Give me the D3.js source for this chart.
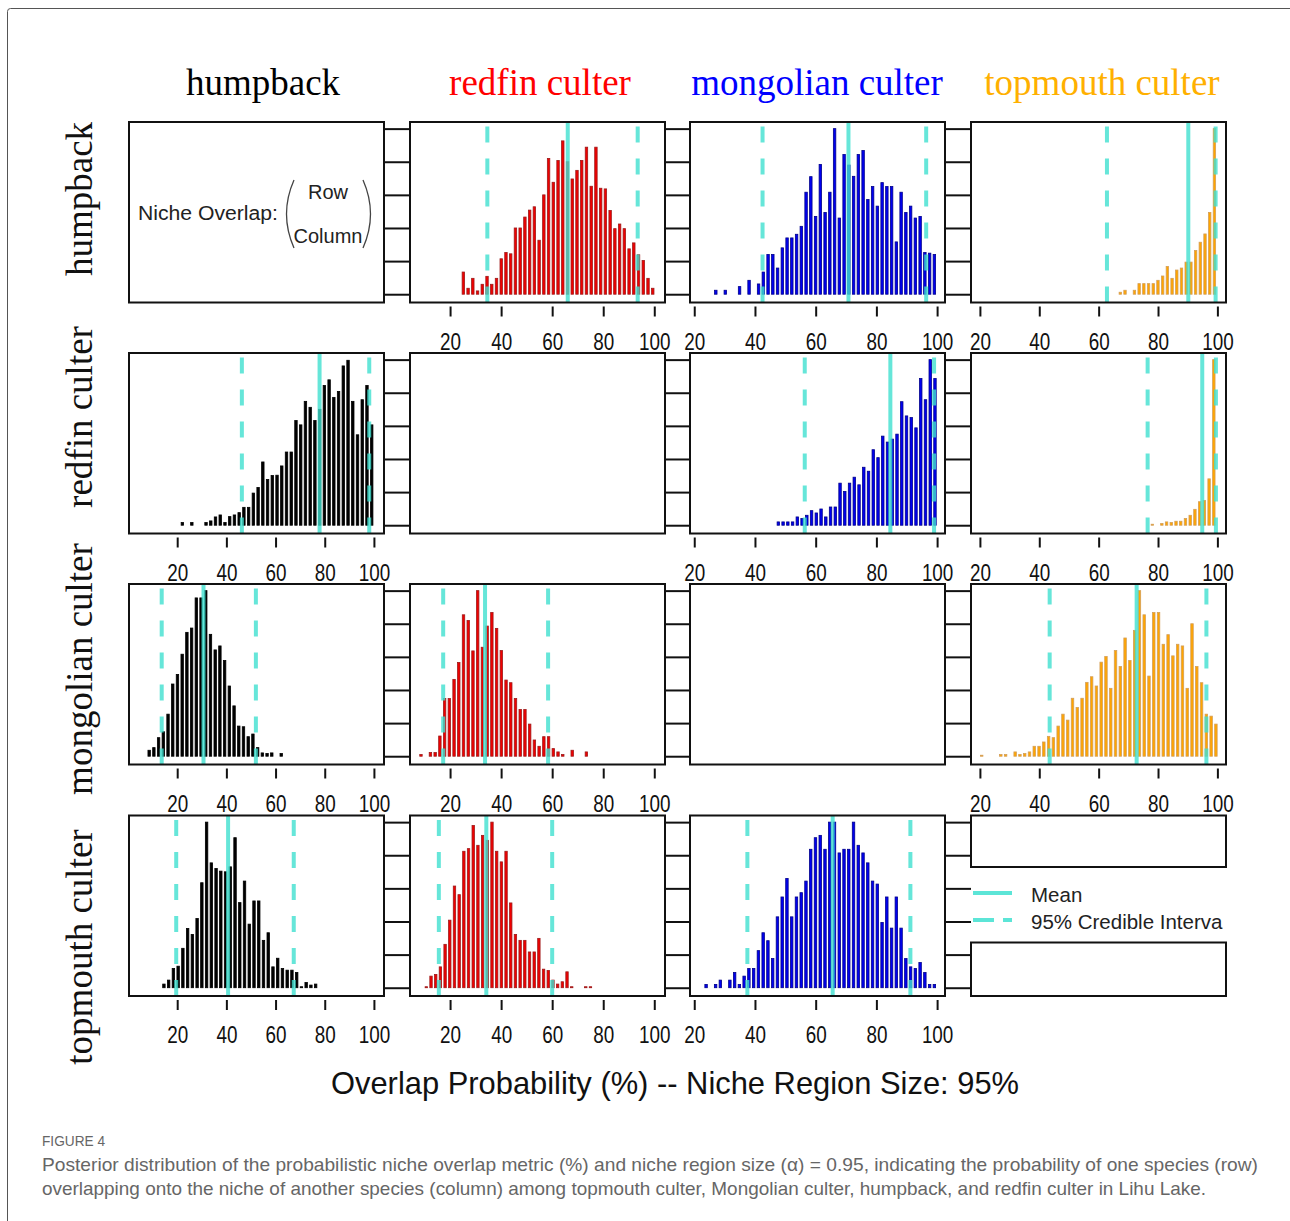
<!DOCTYPE html>
<html>
<head>
<meta charset="utf-8">
<script src="https://cdn.jsdelivr.net/npm/d3@7"></script>
<style>
  body { margin: 0; background: #fff; }
  svg text { font-family: "Liberation Sans", Arial, sans-serif; }
</style>
</head>
<body>
<div id="container"></div>
<script>
/* CONSTANTS AND GLOBALS */
const width = 1290,
  height = 1221;

const panelW = 255,
  panelH = 180.5;
const colX = [129, 410, 690, 971];
const rowY = [122, 353, 584, 815.5];

/* DATA */
const species = ["humpback", "redfin culter", "mongolian culter", "topmouth culter"];
const xTicks = [20, 40, 60, 80, 100];
const yTicks = [0, 1, 2, 3, 4, 5];
// x limits of each column (overlap %)
const colDomains = [[0.4, 104.1], [4.3, 104.2], [18.6, 102.6], [17.0, 102.9]];
const yDomain = [-0.25, 5.2];

// bar heights (relative density), row species overlapping column species
const hb_rc = [0.67, 0.18, 0.48, 0.10, 0.30, 0.54, 0.30, 0.48, 1.07, 1.26,
  1.22, 2.0, 2.0, 2.33, 2.54, 2.64, 1.63, 3.0, 4.1, 3.38,
  4.04, 4.63, 4.0, 3.48, 3.74, 4.04, 4.44, 3.26, 4.44, 3.2,
  3.18, 2.53, 1.98, 2.12, 1.98, 1.37, 1.55, 1.19, 1.02, 0.48, 0.18];
const hb_mc = [0.12, 0, 0.12, 0, 0, 0.23, 0, 0.42, 0, 0.31,
  0.67, 1.2, 1.2, 0.79, 1.4, 1.7, 1.7, 1.81, 2.05, 3.08,
  3.55, 2.35, 3.92, 2.47, 3.08, 5.0, 2.3, 4.22, 3.9, 3.56,
  4.22, 4.34, 2.86, 3.25, 2.66, 3.37, 3.25, 3.25, 1.58, 3.08,
  2.47, 2.66, 2.3, 2.35, 1.26, 1.24, 1.2];
const hb_tc = [0.06, 0.12, 0, 0.12, 0.32, 0.32, 0.32, 0.32, 0.42, 0.55,
  0.84, 0.48, 0.73, 0.79, 0.97, 0.97, 1.32, 1.57, 1.82, 2.47, 5.0];
const rc_hb = [0.08, 0, 0.08, 0, 0, 0.08, 0.13, 0.25, 0.31, 0.08,
  0.26, 0.31, 0.38, 0.54, 0.54, 0.97, 1.14, 1.91, 1.38, 1.5,
  1.51, 1.79, 2.21, 2.21, 3.16, 3.03, 3.74, 3.56, 3.16, 3.5,
  4.22, 4.39, 3.86, 4.04, 4.81, 4.98, 3.74, 2.73, 3.79, 4.22, 3.03];
const rc_mc = [0.1, 0.1, 0.1, 0.1, 0.25, 0.2, 0.3, 0.44, 0.37, 0.49,
  0.25, 0.55, 0.55, 1.27, 1.02, 1.27, 1.45, 1.22, 1.75, 1.63,
  2.28, 2.04, 2.69, 2.51, 2.6, 2.75, 3.73, 3.3, 3.25, 2.94,
  4.43, 3.79, 5.0, 4.43];
const rc_tc = [0.03, 0, 0.05, 0.1, 0.08, 0.12, 0.12, 0.2, 0.3, 0.48,
  0.71, 0.75, 1.4, 5.0];
const mc_hb = [0.18, 0.26, 0.56, 0.74, 1.27, 2.18, 2.47, 3.08, 3.74, 3.87,
  4.78, 4.78, 5.0, 3.68, 3.21, 3.33, 2.89, 2.12, 1.52, 0.91,
  0.89, 0.59, 0.67, 0.26, 0.1, 0.08, 0.1, 0, 0.08];
const mc_rc = [0.05, 0, 0.11, 0.11, 0.61, 1.74, 1.74, 2.32, 2.83, 4.27,
  4.1, 3.18, 5.0, 3.29, 3.93, 4.34, 3.86, 3.19, 2.3, 2.22,
  1.74, 1.41, 1.41, 0.97, 0.49, 0.3, 0.59, 0.59, 0.23, 0.13,
  0.05, 0, 0.18, 0, 0, 0.13];
const mc_tc = [0.03, 0, 0, 0, 0.05, 0.05, 0, 0.13, 0.05, 0.08,
  0.13, 0.3, 0.3, 0.43, 0.6, 0.56, 0.91, 1.27, 1.09, 1.75,
  1.47, 1.75, 2.23, 2.4, 2.12, 2.84, 3.01, 2.05, 3.19, 2.71,
  3.57, 2.89, 3.8, 5.0, 4.27, 2.42, 4.34, 4.34, 3.38, 3.67,
  3.03, 3.38, 3.33, 2.05, 4.0, 2.71, 2.22, 1.27, 1.21, 0.97];
const tc_hb = [0.11, 0.23, 0.58, 0.65, 1.19, 1.79, 1.61, 2.09, 3.17, 5.0,
  3.77, 3.6, 3.52, 3.5, 3.65, 4.53, 2.57, 3.22, 1.92, 2.62,
  2.62, 1.43, 1.66, 0.63, 0.89, 0.58, 0.53, 0.53, 0.46, 0.03,
  0.16, 0.08, 0.11];
const tc_rc = [0.03, 0.35, 0.4, 0.63, 1.31, 2.04, 3.07, 2.81, 4.12, 4.2,
  4.9, 4.3, 4.6, 4.45, 5.0, 4.12, 3.8, 4.12, 2.56, 1.61,
  1.43, 1.43, 1.08, 1.08, 1.49, 0.56, 0.52, 0.23, 0.11, 0.18,
  0.48, 0.03, 0, 0, 0.03, 0.03];
const tc_mc = [0.1, 0, 0.1, 0.23, 0, 0.23, 0.46, 0.1, 0.35, 0.58,
  0.58, 1.12, 1.66, 1.42, 0.88, 2.14, 2.74, 3.3, 2.14, 2.74,
  2.87, 3.22, 4.18, 4.53, 4.6, 4.18, 5.0, 5.0, 4.07, 4.18,
  4.18, 5.0, 4.3, 4.07, 3.77, 3.22, 3.13, 1.97, 2.74, 1.8,
  2.74, 1.8, 0.88, 0.63, 0.58, 0.76, 0.46, 0.1, 0.1];

// first and last bin centre of each histogram (%)
const binRanges = [[25.2, 99.4], [27.1, 99.1], [67.3, 99.0], [22.1, 99.1], [47.7, 99.3], [78.1, 98.8],
  [8.6, 62.3], [8.6, 73.4], [20.6, 99.5], [14.6, 76.3], [10.7, 75.0], [23.9, 99.1]];
const panelRows = [0, 0, 0, 1, 1, 1, 2, 2, 2, 3, 3, 3];
const panelCols = [1, 2, 3, 0, 2, 3, 0, 1, 3, 0, 1, 2];
const panelCounts = [hb_rc, hb_mc, hb_tc, rc_hb, rc_mc, rc_tc, mc_hb, mc_rc, mc_tc, tc_hb, tc_rc, tc_mc];
const meanOverlap = [66.1, 70.8, 90.2, 77.9, 84.6, 94.9, 30.7, 33.7, 72.8, 40.7, 34.2, 65.6];
const ciLower = [34.6, 42.5, 62.8, 46.3, 56.4, 76.5, 13.7, 17.3, 43.5, 19.6, 15.6, 37.5];
const ciUpper = [93.5, 96.4, 99.4, 98.1, 99.0, 99.5, 52.0, 58.4, 96.3, 67.4, 60.0, 91.2];

/* STYLES */
const barFill = ["#000000", "#f00000", "#0000f0", "#ffa500"];
const barEdge = ["#000000", "#9e1a1a", "#00008b", "#d49f58"];
const headColor = ["#000000", "#ff0000", "#0000ff", "#ffb000"];
const lineColor = "#40e0d0";

// create SVG
const svg = d3.select("#container")
  .append("svg")
  .attr("width", width)
  .attr("height", height);

// figure frame
svg.append("rect")
  .attr("x", 7.5).attr("y", 8.5)
  .attr("width", 1400).attr("height", 1400)
  .attr("rx", 3)
  .attr("fill", "none")
  .attr("stroke", "#555")
  .attr("stroke-width", 1);

const yScaleFor = r => d3.scaleLinear().domain(yDomain).range([rowY[r] + panelH, rowY[r]]);
const xScaleFor = c => d3.scaleLinear().domain(colDomains[c]).range([colX[c], colX[c] + panelW]);

/* HISTOGRAM PANELS */
panelCounts.forEach((counts, i) => {
  const r = panelRows[i], c = panelCols[i];
  const xScale = xScaleFor(c);
  const yScale = yScaleFor(r);
  const [lo, hi] = binRanges[i];
  const step = (hi - lo) / (counts.length - 1);
  const bins = counts.map((v, k) => ({ x: lo + k * step, v }));
  const barW = Math.abs(xScale(step) - xScale(0)) - 2.3;
  const g = svg.append("g").attr("class", "panel");

  g.selectAll("rect.bar")
    .data(bins.filter(d => d.v > 0))
    .join("rect")
    .attr("class", "bar")
    .attr("x", d => xScale(d.x) - barW / 2)
    .attr("y", d => yScale(d.v))
    .attr("width", barW)
    .attr("height", d => Math.max(1, yScale(0) - yScale(d.v)))
    .attr("fill", barFill[c])
    .attr("stroke", barEdge[c])
    .attr("stroke-width", 0.8);

  // credible interval (dashed) and mean (solid)
  g.selectAll("line.ci")
    .data([ciLower[i], ciUpper[i]])
    .join("line")
    .attr("class", "ci")
    .attr("x1", d => xScale(d)).attr("x2", d => xScale(d))
    .attr("y1", rowY[r] + panelH).attr("y2", rowY[r])
    .attr("stroke", lineColor)
    .attr("stroke-opacity", 0.8)
    .attr("stroke-width", 4)
    .attr("stroke-dasharray", "16 16");

  g.append("line")
    .attr("x1", xScale(meanOverlap[i])).attr("x2", xScale(meanOverlap[i]))
    .attr("y1", rowY[r] + panelH).attr("y2", rowY[r])
    .attr("stroke", lineColor)
    .attr("stroke-opacity", 0.8)
    .attr("stroke-width", 4);

  // x axis: ticks only
  const xAxis = d3.axisBottom(xScale).tickValues(xTicks).tickSize(10).tickSizeOuter(0);
  const ax = svg.append("g")
    .attr("transform", `translate(0,${rowY[r] + panelH + 4})`)
    .call(xAxis);
  ax.select(".domain").remove();
  ax.selectAll(".tick line").attr("stroke", "#111").attr("stroke-width", 2);
  ax.selectAll(".tick text")
    .attr("y", 43).attr("dy", 0)
    .attr("fill", "#111")
    .style("font-size", "23px")
    .each(function () {
      const w = this.getComputedTextLength();
      d3.select(this).attr("textLength", w * 0.82).attr("lengthAdjust", "spacingAndGlyphs");
    });
});

/* PANEL BOXES AND Y TICKS */
for (let r = 0; r < 4; r++) {
  const yScale = yScaleFor(r);
  for (let c = 1; c < 4; c++) {
    const gap = colX[c] - (colX[c - 1] + panelW);
    const yAxis = d3.axisLeft(yScale).tickValues(yTicks).tickSize(gap).tickFormat("");
    const ay = svg.append("g")
      .attr("transform", `translate(${colX[c]},0)`)
      .call(yAxis);
    ay.select(".domain").remove();
    ay.selectAll(".tick line").attr("stroke", "#111").attr("stroke-width", 2);
  }
  for (let c = 0; c < 4; c++) {
    if (r === 3 && c === 3) continue; // legend panel drawn below
    svg.append("rect")
      .attr("x", colX[c]).attr("y", rowY[r])
      .attr("width", panelW).attr("height", panelH)
      .attr("fill", "none")
      .attr("stroke", "#111")
      .attr("stroke-width", 2);
  }
}

/* COLUMN AND ROW LABELS */
const headX = [263, 540, 817, 1102];
svg.selectAll("text.head")
  .data(species)
  .join("text")
  .attr("class", "head")
  .attr("x", (d, i) => headX[i])
  .attr("y", 95)
  .attr("text-anchor", "middle")
  .attr("fill", (d, i) => headColor[i])
  .style("font-family", "'Liberation Serif', 'Times New Roman', serif")
  .style("font-size", "37px")
  .text(d => d);

const rowLabelY = [199, 417, 669, 947];
svg.selectAll("text.rowlab")
  .data(species)
  .join("text")
  .attr("class", "rowlab")
  .attr("transform", (d, i) => `translate(92,${rowLabelY[i]}) rotate(-90)`)
  .attr("text-anchor", "middle")
  .attr("fill", "#111")
  .style("font-family", "'Liberation Serif', 'Times New Roman', serif")
  .style("font-size", "37px")
  .text(d => d);

/* NICHE OVERLAP KEY (row 1, column 1) */
const key = svg.append("g").attr("fill", "#222").style("font-size", "20px");
key.append("text").attr("x", 138).attr("y", 220)
  .attr("textLength", 140).attr("lengthAdjust", "spacingAndGlyphs")
  .text("Niche Overlap:");
key.append("text").attr("x", 328).attr("y", 199).attr("text-anchor", "middle").text("Row");
key.append("text").attr("x", 328).attr("y", 243).attr("text-anchor", "middle").text("Column");
key.append("path").attr("d", "M294,180 Q279,214 294,248")
  .attr("fill", "none").attr("stroke", "#444").attr("stroke-width", 1.3);
key.append("path").attr("d", "M363,180 Q378,214 363,248")
  .attr("fill", "none").attr("stroke", "#444").attr("stroke-width", 1.3);

/* LINE LEGEND (row 4, column 4) */
const lx = colX[3], ly = rowY[3];
svg.append("rect").attr("x", lx).attr("y", ly).attr("width", panelW).attr("height", 51.5)
  .attr("fill", "none").attr("stroke", "#111").attr("stroke-width", 2);
svg.append("rect").attr("x", lx).attr("y", 942.5).attr("width", panelW).attr("height", ly + panelH - 942.5)
  .attr("fill", "none").attr("stroke", "#111").attr("stroke-width", 2);

svg.append("clipPath").attr("id", "legclip")
  .append("rect").attr("x", lx).attr("y", ly).attr("width", panelW - 3).attr("height", panelH);

const legendItems = ["Mean", "95% Credible Interval"];
const legendDash = [null, "21 9"];
const leg = svg.append("g").attr("clip-path", "url(#legclip)");
legendItems.forEach((label, i) => {
  const yy = 893 + i * 27;
  leg.append("line")
    .attr("x1", 973).attr("x2", 1012)
    .attr("y1", yy).attr("y2", yy)
    .attr("stroke", lineColor)
    .attr("stroke-opacity", 0.85)
    .attr("stroke-width", 4)
    .attr("stroke-dasharray", legendDash[i]);
  leg.append("text")
    .attr("x", 1031).attr("y", yy + 9)
    .attr("fill", "#222")
    .style("font-size", "20.5px")
    .text(label);
});

/* AXIS TITLE */
svg.append("text")
  .attr("x", 331).attr("y", 1094)
  .attr("textLength", 688).attr("lengthAdjust", "spacingAndGlyphs")
  .attr("fill", "#111")
  .style("font-size", "32px")
  .text("Overlap Probability (%) -- Niche Region Size: 95%");

/* CAPTION */
svg.append("text")
  .attr("x", 42).attr("y", 1146)
  .attr("textLength", 63).attr("lengthAdjust", "spacingAndGlyphs")
  .attr("fill", "#666")
  .style("font-size", "14.5px")
  .text("FIGURE 4");

const captionLines = [
  "Posterior distribution of the probabilistic niche overlap metric (%) and niche region size (\u03b1) = 0.95, indicating the probability of one species (row)",
  "overlapping onto the niche of another species (column) among topmouth culter, Mongolian culter, humpback, and redfin culter in Lihu Lake."
];
const captionWidth = [1216, 1164];
svg.selectAll("text.caption")
  .data(captionLines)
  .join("text")
  .attr("class", "caption")
  .attr("x", 42)
  .attr("y", (d, i) => 1171 + i * 24)
  .attr("textLength", (d, i) => captionWidth[i])
  .attr("lengthAdjust", "spacingAndGlyphs")
  .attr("fill", "#666")
  .style("font-size", "19px")
  .text(d => d);
</script>
</body>
</html>
